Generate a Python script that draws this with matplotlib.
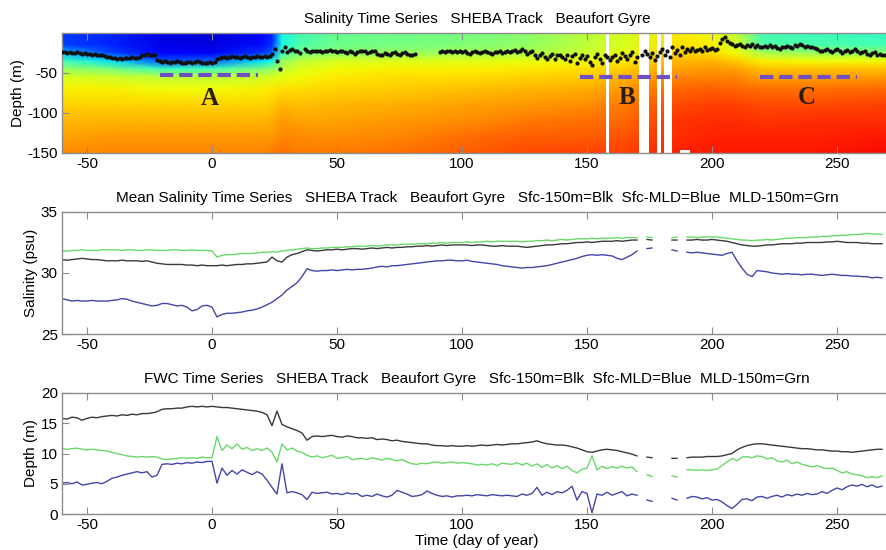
import numpy as np
import matplotlib
matplotlib.use('Agg')
import matplotlib.pyplot as plt

plt.rcParams['font.family'] = ['Liberation Sans', 'DejaVu Sans']
plt.rcParams['axes.unicode_minus'] = False
nan = float('nan')

# ---------------- data ----------------
# salinity field (psu): profiles at time nodes, depth nodes
field_days = [-60, -40, -20, 0, 20, 24, 28, 35, 50, 75, 100, 125, 150, 165, 185, 200, 210, 220, 240, 272]
field_depths = [0, -15, -25, -35, -45, -55, -70, -90, -110, -130, -150]
field_profiles = [
    [27.2, 27.3, 28.5, 29.6, 30.6, 31.3, 31.7, 32.0, 32.3, 32.5, 32.8],
    [27.0, 27.0, 27.3, 28.8, 30.2, 31.2, 31.7, 32.0, 32.3, 32.6, 32.8],
    [26.3, 26.4, 26.6, 27.5, 29.5, 31.0, 31.6, 32.0, 32.3, 32.6, 32.8],
    [26.2, 26.3, 26.5, 27.6, 29.6, 31.0, 31.6, 32.0, 32.3, 32.6, 32.8],
    [26.6, 26.8, 27.2, 28.8, 30.3, 31.2, 31.7, 32.0, 32.3, 32.6, 32.8],
    [27.0, 27.1, 27.6, 29.0, 30.5, 31.3, 31.8, 32.1, 32.4, 32.6, 32.9],
    [29.0, 29.1, 29.5, 30.5, 31.0, 31.5, 31.9, 32.3, 32.6, 32.8, 33.0],
    [29.6, 29.7, 30.2, 31.0, 31.4, 31.6, 31.9, 32.2, 32.5, 32.7, 32.9],
    [30.0, 30.1, 30.4, 31.3, 31.6, 31.8, 32.0, 32.3, 32.5, 32.7, 32.9],
    [30.1, 30.2, 30.6, 31.4, 31.7, 31.9, 32.1, 32.4, 32.6, 32.8, 33.0],
    [30.2, 30.3, 30.7, 31.4, 31.7, 31.9, 32.2, 32.5, 32.7, 33.0, 33.2],
    [30.4, 30.5, 30.8, 31.5, 31.8, 32.0, 32.3, 32.6, 32.9, 33.2, 33.4],
    [31.0, 31.0, 31.2, 31.6, 31.9, 32.1, 32.4, 32.7, 33.0, 33.2, 33.5],
    [31.3, 31.3, 31.5, 31.8, 32.1, 32.3, 32.6, 32.9, 33.1, 33.3, 33.5],
    [31.8, 31.9, 32.0, 32.3, 32.5, 32.8, 33.1, 33.4, 33.6, 33.7, 33.8],
    [31.6, 31.7, 31.9, 32.3, 32.6, 32.8, 33.2, 33.5, 33.7, 33.8, 33.9],
    [31.0, 31.2, 31.6, 32.1, 32.5, 32.8, 33.1, 33.5, 33.7, 33.8, 33.9],
    [29.6, 29.8, 30.8, 31.7, 32.2, 32.5, 33.0, 33.4, 33.6, 33.8, 33.9],
    [29.5, 29.7, 30.6, 31.6, 32.2, 32.5, 33.0, 33.4, 33.7, 33.8, 33.9],
    [29.4, 29.6, 30.5, 31.6, 32.2, 32.6, 33.1, 33.5, 33.7, 33.9, 34.0],
]
# missing profile intervals (day start, day end)
gap_days = [(157.6, 158.8), (170.9, 174.9), (177.9, 179.6), (180.9, 183.9)]
gap_box = (187.0, 191.0, -150.0, -146.0)

# mixed layer depth, daily, days -60..269
mld_days = list(range(-60, 270))
mld = (
    [-24, -24, -25, -24, -25, -25, -24, -25, -26, -25, -26, -26, -27, -26, -27, -28, -28, -29, -30, -30]
    + [-31, -31, -32, -31, -32, -31, -31, -31, -30, -31, -31, -30, -27, -27, -26, -27, -27, -28, -34, -35]
    + [-36, -35, -36, -37, -36, -36, -35, -36, -37, -37, -36, -36, -37, -36, -35, -36, -37, -38, -37, -36]
    + [-37, -36, -33, -31, -30, -30, -31, -30, -29, -30, -30, -31, -30, -29, -30, -31, -30, -30, -29, -30]
    + [-30, -29, -30, -29, -26, -20, -35, -45, -22, -18, -24, -21, -20, -22, -23, -25, nan, -20, -22, -24]
    + [-23, -22, -23, -22, -24, -23, -22, -21, -23, -22, -24, -23, -22, -24, -25, -23, -24, -26, -24, -23]
    + [-22, -23, -25, -24, -22, -23, -26, -27, -28, -25, -26, -27, -25, -24, -26, -28, -25, -24, -26, -28]
    + [-27, -26, nan, nan, nan, nan, nan, nan, nan, nan, nan, -24, -23, -24, -23, -22, -24, -23, -24, -23]
    + [-24, -23, -25, -26, -24, -23, -24, -25, -24, -23, -24, -25, -26, -24, -24, -23, -25, -24, -23, -24]
    + [-22, -21, -24, -23, -20, -22, -26, -24, -22, -27, -31, -28, -25, -30, -33, -29, -26, -32, -28, -27]
    + [-30, -33, -27, -35, -29, -26, -38, -31, -27, -33, -29, -36, -40, -30, -26, -32, -37, -28, -30, -34]
    + [-30, -27, -35, -31, -25, -29, -33, -27, -24, -36, -30, nan, -28, -22, -26, -30, -25, -34, -29, -24]
    + [-20, -27, -23, -30, -18, -25, -21, -28, -17, -24, -20, -22, -19, -23, -21, -20, -22, -18, -21, -20]
    + [-19, -21, -20, -12, -8, -5, -10, -13, -14, -16, -15, -14, -16, -17, -15, -16, -14, -18, -15, -17]
    + [-17, -16, -18, -15, -17, -16, -19, -20, -17, -18, -16, -17, -19, -15, -16, -14, -15, -17, -16, -18]
    + [-17, -19, -20, -22, -23, -21, -20, -22, -24, -21, -20, -22, -25, -23, -21, -24, -22, -20, -23, -25]
    + [-24, -22, -26, -27, -25, -24, -28, -26, -27, -28]
)

# regime markers
regime_labels = ['A', 'B', 'C']
regime_start = [-20.8, 147.0, 219.0]
regime_end = [18.4, 186.0, 258.0]
regime_depth = [-53, -55, -55]
regime_text_day = [-1, 166, 238]
regime_text_depth = [-82, -80, -80]

# time series, every 2 days, days -60..268
series_days = list(range(-60, 270, 2))

sal_total = (
    [31.1, 31.05, 31.1, 31.15, 31.2, 31.15, 31.1, 31.1, 31.05, 31.0]
    + [31.0, 31.0, 31.05, 31.0, 31.0, 31.0, 30.95, 31.0, 30.9, 30.8]
    + [30.75, 30.7, 30.7, 30.7, 30.7, 30.65, 30.65, 30.6, 30.65, 30.6]
    + [30.6, 30.6, 30.65, 30.6, 30.65, 30.7, 30.7, 30.75, 30.75, 30.8]
    + [30.85, 30.9, 31.3, 31.0, 30.9, 31.3, 31.5, 31.6, 31.75, 31.9]
    + [31.85, 31.8, 31.85, 31.9, 31.9, 31.95, 31.9, 31.95, 32.0, 32.0]
    + [31.95, 32.0, 32.05, 32.0, 32.05, 32.1, 32.05, 32.1, 32.1, 32.15]
    + [32.15, 32.2, 32.2, 32.25, 32.2, 32.25, 32.3, 32.25, 32.3, 32.3]
    + [32.3, 32.3, 32.25, 32.3, 32.3, 32.25, 32.2, 32.2, 32.25, 32.2]
    + [32.2, 32.2, 32.15, 32.1, 32.15, 32.2, 32.25, 32.3, 32.3, 32.35]
    + [32.4, 32.4, 32.45, 32.5, 32.5, 32.55, 32.5, 32.55, 32.6, 32.6]
    + [32.6, 32.65, 32.6, 32.65, 32.7, 32.7, nan, 32.75, 32.7, nan]
    + [32.75, nan, 32.7, 32.7, nan, 32.7, 32.7, 32.75, 32.7, 32.7]
    + [32.75, 32.7, 32.65, 32.6, 32.5, 32.4, 32.3, 32.25, 32.2, 32.2]
    + [32.25, 32.3, 32.3, 32.35, 32.4, 32.4, 32.4, 32.45, 32.45, 32.5]
    + [32.5, 32.5, 32.5, 32.55, 32.55, 32.6, 32.55, 32.5, 32.5, 32.5]
    + [32.45, 32.45, 32.4, 32.4, 32.4]
)
sal_lower = (
    [31.8, 31.8, 31.85, 31.85, 31.9, 31.85, 31.85, 31.85, 31.9, 31.9]
    + [31.9, 31.9, 31.85, 31.9, 31.9, 31.85, 31.85, 31.9, 31.9, 31.85]
    + [31.85, 31.85, 31.9, 31.9, 31.85, 31.85, 31.9, 31.85, 31.85, 31.85]
    + [31.8, 31.3, 31.45, 31.5, 31.5, 31.55, 31.6, 31.6, 31.6, 31.65]
    + [31.7, 31.7, 31.75, 31.7, 31.8, 31.85, 31.9, 31.95, 32.0, 32.05]
    + [32.0, 32.0, 32.05, 32.05, 32.1, 32.1, 32.1, 32.15, 32.15, 32.2]
    + [32.2, 32.2, 32.25, 32.2, 32.25, 32.3, 32.3, 32.3, 32.35, 32.35]
    + [32.35, 32.4, 32.4, 32.4, 32.45, 32.45, 32.5, 32.45, 32.5, 32.5]
    + [32.5, 32.55, 32.5, 32.55, 32.55, 32.6, 32.55, 32.6, 32.6, 32.6]
    + [32.6, 32.6, 32.55, 32.6, 32.6, 32.65, 32.65, 32.7, 32.65, 32.7]
    + [32.75, 32.7, 32.75, 32.8, 32.8, 32.8, 32.85, 32.8, 32.85, 32.85]
    + [32.85, 32.9, 32.85, 32.9, 32.9, 32.9, nan, 32.95, 32.9, nan]
    + [32.95, nan, 32.9, 32.95, nan, 32.95, 32.95, 32.9, 32.95, 32.95]
    + [32.95, 32.95, 32.9, 32.85, 32.8, 32.75, 32.7, 32.7, 32.65, 32.7]
    + [32.7, 32.75, 32.7, 32.75, 32.8, 32.85, 32.85, 32.9, 32.9, 32.9]
    + [32.95, 32.95, 33.0, 33.0, 33.05, 33.05, 33.1, 33.1, 33.15, 33.15]
    + [33.2, 33.25, 33.2, 33.2, 33.15]
)
sal_upper = (
    [27.9, 27.8, 27.7, 27.75, 27.7, 27.7, 27.75, 27.7, 27.7, 27.7]
    + [27.75, 27.8, 27.9, 27.85, 27.7, 27.6, 27.5, 27.4, 27.3, 27.35]
    + [27.5, 27.5, 27.4, 27.3, 27.35, 27.2, 26.9, 27.0, 27.3, 27.35]
    + [27.2, 26.4, 26.6, 26.7, 26.7, 26.75, 26.8, 26.9, 26.95, 27.05]
    + [27.2, 27.4, 27.6, 27.9, 28.2, 28.6, 28.9, 29.2, 29.7, 30.35]
    + [30.2, 30.15, 30.2, 30.2, 30.25, 30.2, 30.25, 30.3, 30.25, 30.3]
    + [30.3, 30.35, 30.4, 30.5, 30.55, 30.5, 30.6, 30.6, 30.65, 30.7]
    + [30.75, 30.8, 30.85, 30.9, 30.95, 31.0, 31.0, 31.05, 31.05, 31.0]
    + [31.0, 31.05, 30.95, 30.9, 30.85, 30.8, 30.75, 30.7, 30.6, 30.55]
    + [30.5, 30.45, 30.4, 30.45, 30.45, 30.5, 30.55, 30.6, 30.7, 30.8]
    + [30.9, 31.0, 31.1, 31.2, 31.35, 31.45, 31.5, 31.45, 31.5, 31.45]
    + [31.4, 31.2, 31.1, 31.3, 31.5, 31.8, nan, 32.0, 32.05, nan]
    + [32.0, nan, 31.9, 31.8, nan, 31.7, 31.65, 31.7, 31.65, 31.6]
    + [31.55, 31.5, 31.45, 31.6, 31.7, 31.0, 30.4, 29.9, 29.7, 30.2]
    + [30.15, 30.1, 30.0, 29.95, 29.9, 29.95, 29.9, 29.9, 29.85, 29.9]
    + [29.9, 29.85, 29.8, 29.85, 29.9, 29.85, 29.8, 29.8, 29.75, 29.75]
    + [29.7, 29.7, 29.6, 29.65, 29.6]
)

fwc_total = (
    [15.8, 15.7, 16.0, 15.9, 15.5, 15.8, 16.0, 15.9, 16.1, 16.2]
    + [16.3, 16.2, 16.4, 16.3, 16.5, 16.4, 16.6, 16.6, 16.7, 16.9]
    + [17.3, 17.4, 17.4, 17.5, 17.5, 17.7, 17.8, 17.7, 17.8, 17.7]
    + [17.8, 17.7, 17.6, 17.6, 17.5, 17.4, 17.3, 17.2, 17.1, 17.0]
    + [16.8, 16.4, 14.6, 17.0, 14.8, 14.4, 14.1, 13.8, 13.4, 12.2]
    + [12.8, 12.9, 12.8, 12.9, 13.0, 12.8, 12.7, 12.9, 12.8, 12.6]
    + [12.6, 12.5, 12.6, 12.3, 12.4, 12.3, 12.1, 12.2, 12.0, 11.9]
    + [11.8, 11.7, 11.6, 11.6, 11.4, 11.3, 11.3, 11.2, 11.3, 11.2]
    + [11.2, 11.3, 11.2, 11.3, 11.4, 11.3, 11.4, 11.5, 11.4, 11.5]
    + [11.6, 11.6, 11.7, 11.8, 11.9, 12.1, 11.8, 11.6, 11.5, 11.4]
    + [11.4, 11.3, 11.1, 10.9, 10.6, 10.3, 10.2, 10.4, 10.6, 10.7]
    + [10.6, 10.5, 10.3, 10.1, 9.9, 9.6, nan, 9.4, 9.3, nan]
    + [9.2, nan, 9.2, 9.2, nan, 9.3, 9.4, 9.4, 9.4, 9.5]
    + [9.5, 9.5, 9.6, 9.8, 10.0, 10.6, 11.0, 11.3, 11.5, 11.6]
    + [11.6, 11.5, 11.4, 11.3, 11.2, 11.1, 11.0, 10.9, 10.8, 10.8]
    + [10.7, 10.6, 10.6, 10.5, 10.4, 10.4, 10.3, 10.3, 10.2, 10.3]
    + [10.4, 10.5, 10.6, 10.7, 10.7]
)
fwc_lower = (
    [10.8, 10.7, 10.8, 10.9, 10.7, 10.6, 10.7, 10.6, 10.5, 10.4]
    + [10.2, 10.0, 9.8, 9.6, 9.5, 9.4, 9.5, 9.4, 9.5, 9.4]
    + [9.1, 9.0, 9.1, 9.2, 9.3, 9.2, 9.3, 9.2, 9.4, 9.3]
    + [9.3, 12.8, 10.5, 11.4, 10.8, 11.6, 10.7, 11.0, 10.5, 10.8]
    + [10.5, 10.9, 10.2, 8.6, 11.6, 10.6, 10.9, 10.4, 10.2, 9.7]
    + [9.4, 9.6, 9.3, 9.5, 9.7, 9.2, 9.3, 9.5, 9.0, 9.1]
    + [9.2, 9.0, 9.3, 9.1, 8.9, 9.2, 9.0, 8.8, 9.0, 8.6]
    + [8.3, 8.2, 8.4, 8.3, 8.5, 8.6, 8.4, 8.5, 8.6, 8.4]
    + [8.5, 8.4, 8.3, 8.1, 8.2, 8.1, 8.3, 8.0, 8.4, 8.3]
    + [8.2, 8.5, 8.1, 8.4, 7.9, 8.3, 7.7, 8.2, 7.6, 8.0]
    + [7.5, 7.9, 7.2, 6.8, 7.4, 7.6, 9.6, 7.3, 7.9, 7.5]
    + [7.8, 7.6, 7.9, 7.6, 7.8, 7.0, nan, 6.5, 6.2, nan]
    + [6.6, nan, 6.3, 6.1, nan, 7.3, 7.3, 7.2, 7.3, 7.2]
    + [7.3, 7.4, 8.0, 8.6, 9.2, 8.8, 9.4, 9.5, 9.3, 9.6]
    + [9.5, 9.1, 9.3, 8.8, 8.6, 8.9, 8.3, 8.6, 8.2, 8.0]
    + [7.8, 8.0, 7.7, 7.5, 7.6, 7.2, 6.8, 7.0, 6.6, 6.5]
    + [6.3, 6.0, 6.2, 6.0, 6.3]
)
fwc_upper = (
    [5.1, 5.2, 5.0, 5.3, 4.8, 4.9, 5.1, 5.2, 5.0, 5.4]
    + [5.9, 6.1, 6.4, 6.6, 6.8, 7.0, 6.8, 7.0, 6.1, 6.4]
    + [8.2, 8.3, 8.2, 8.4, 8.3, 8.5, 8.4, 8.6, 8.5, 8.7]
    + [8.7, 5.1, 7.6, 6.4, 7.2, 6.6, 7.3, 6.9, 6.5, 7.0]
    + [6.6, 5.6, 4.4, 3.3, 8.3, 3.5, 3.7, 3.5, 3.2, 2.4]
    + [3.6, 3.4, 3.5, 3.6, 3.3, 3.4, 3.2, 3.5, 3.3, 3.4]
    + [2.9, 3.1, 2.9, 3.3, 3.0, 2.8, 3.1, 3.9, 3.6, 3.3]
    + [2.9, 3.0, 3.2, 3.8, 3.4, 3.1, 2.9, 3.0, 2.8, 3.0]
    + [3.0, 3.1, 3.0, 3.2, 3.1, 3.0, 3.2, 3.1, 3.0, 3.1]
    + [3.0, 2.9, 3.3, 3.1, 3.4, 4.4, 3.1, 3.6, 3.2, 3.7]
    + [3.5, 3.9, 4.6, 2.3, 3.7, 3.4, 0.2, 3.3, 3.1, 3.6]
    + [3.1, 3.4, 3.7, 3.0, 3.3, 3.1, nan, 2.3, 2.1, nan]
    + [2.5, nan, 2.6, 2.3, nan, 2.6, 2.9, 2.8, 2.5, 2.7]
    + [2.3, 2.4, 2.0, 1.4, 0.9, 1.6, 2.4, 2.5, 2.2, 2.8]
    + [2.9, 2.6, 2.9, 3.1, 2.8, 3.2, 3.0, 3.3, 3.1, 3.4]
    + [3.2, 3.3, 3.7, 3.4, 3.9, 4.3, 4.0, 4.5, 4.8, 4.6]
    + [4.9, 4.5, 4.8, 4.4, 4.6]
)

xticks = [-50, 0, 50, 100, 150, 200, 250]

# ---------------- styling ----------------
C_BLK = '#3a3a3a'
C_GRN = '#6ad86a'
C_BLU = '#4646a8'
C_PURPLE = '#7050c0'
SPINE = '#8c8c8c'

fig = plt.figure(figsize=(8.86, 5.5), dpi=100)
left, width = 62 / 886, 830 / 886
ax1 = fig.add_axes([left, 1 - 153 / 550, width, 120 / 550])
ax2 = fig.add_axes([left, 1 - 334 / 550, width, 122 / 550])
ax3 = fig.add_axes([left, 1 - 514 / 550, width, 121 / 550])


def style(ax):
    for s in ax.spines.values():
        s.set_color(SPINE)
        s.set_linewidth(1.0)
    ax.tick_params(direction='in', top=True, right=False, length=5,
                   color=SPINE, labelsize=11, pad=3)
    ax.set_xlim(-60, 272)
    ax.set_xticks(xticks)


# top panel
T, Z = np.meshgrid(np.array(field_days, float), np.array(field_depths, float))
S = np.array(field_profiles, float).T
ax1.pcolormesh(T, Z, S, shading='gouraud', cmap='jet', vmin=25.5, vmax=35.0, zorder=1)
for a, b in gap_days:
    ax1.axvspan(a, b, color='white', lw=0, zorder=2)
ax1.add_patch(plt.Rectangle((gap_box[0], gap_box[2]), gap_box[1] - gap_box[0],
                            gap_box[3] - gap_box[2], color='white', lw=0, zorder=2))
ax1.plot(mld_days, mld, 'o', color='#111111', ms=3.0, mew=0, zorder=3)
for lab, s0, s1, d, tx, ty in zip(regime_labels, regime_start, regime_end,
                                  regime_depth, regime_text_day, regime_text_depth):
    ax1.plot([s0, s1], [d, d], color=C_PURPLE, lw=3.0, dashes=(3.2, 1.4),
             solid_capstyle='butt', zorder=4)
    ax1.text(tx, ty, lab, family=['Liberation Serif', 'DejaVu Serif'], weight='bold',
             fontsize=18, color='#2a1d12', ha='center', va='center', zorder=4)
ax1.set_ylim(-150, 0)
ax1.set_yticks([-150, -100, -50])
style(ax1)
ax1.set_ylabel('Depth (m)', fontsize=11, labelpad=2)
ax1.set_title('Salinity Time Series   SHEBA Track   Beaufort Gyre', fontsize=11, pad=7)

# middle panel
ax2.plot(series_days, sal_lower, color=C_GRN, lw=1.0)
ax2.plot(series_days, sal_total, color=C_BLK, lw=1.0)
ax2.plot(series_days, sal_upper, color=C_BLU, lw=1.0)
ax2.set_ylim(25, 35)
ax2.set_yticks([25, 30, 35])
style(ax2)
ax2.set_ylabel('Salinity (psu)', fontsize=11, labelpad=2)
ax2.set_title('Mean Salinity Time Series   SHEBA Track   Beaufort Gyre   '
              'Sfc-150m=Blk  Sfc-MLD=Blue  MLD-150m=Grn', fontsize=11, pad=7)

# bottom panel
ax3.plot(series_days, fwc_lower, color=C_GRN, lw=1.0)
ax3.plot(series_days, fwc_total, color=C_BLK, lw=1.0)
ax3.plot(series_days, fwc_upper, color=C_BLU, lw=1.0)
ax3.set_ylim(0, 20)
ax3.set_yticks([0, 5, 10, 15, 20])
style(ax3)
ax3.set_ylabel('Depth (m)', fontsize=11, labelpad=2)
ax3.set_xlabel('Time (day of year)', fontsize=11, labelpad=1)
ax3.set_title('FWC Time Series   SHEBA Track   Beaufort Gyre   '
              'Sfc-150m=Blk  Sfc-MLD=Blue  MLD-150m=Grn', fontsize=11, pad=7)

fig.savefig('out.png', dpi=100)
